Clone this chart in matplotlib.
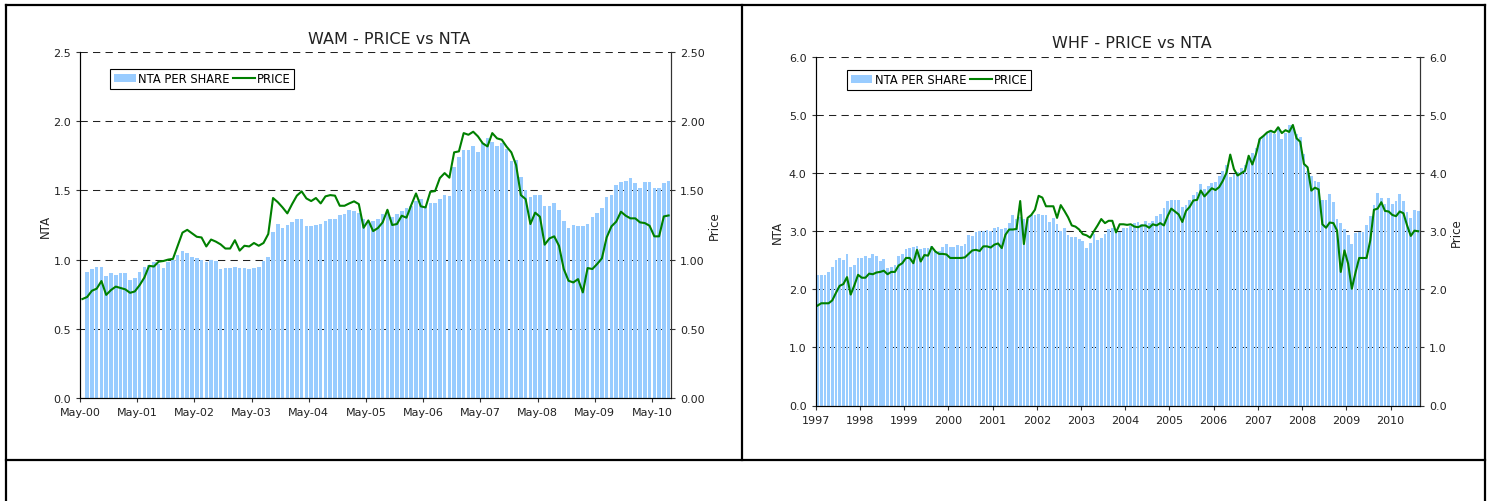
import numpy as np
import matplotlib
matplotlib.use('Agg')
import matplotlib.pyplot as plt
from matplotlib.lines import Line2D
from matplotlib.ticker import FormatStrFormatter

# WAM: price from May-00, NTA from Jun-00, both monthly to Aug-10
wam_nta = [0.91, 0.93, 0.95, 0.95, 0.88, 0.90, 0.89, 0.90, 0.90, 0.85, 0.87, 0.91, 0.95, 0.96, 0.98,
           0.97, 0.94, 0.98, 1.00, 1.03, 1.06, 1.05, 1.02, 1.01, 1.00, 0.98, 1.00, 0.99, 0.93, 0.94,
           0.94, 0.95, 0.94, 0.94, 0.93, 0.94, 0.95, 0.99, 1.02, 1.20,
           1.26, 1.23, 1.25, 1.27, 1.29, 1.29, 1.24, 1.24, 1.25, 1.26, 1.28, 1.29, 1.29, 1.32, 1.33,
           1.36, 1.35, 1.34, 1.29, 1.27, 1.28, 1.29, 1.33, 1.36, 1.31, 1.33, 1.35, 1.37, 1.39, 1.42,
           1.44, 1.38, 1.41, 1.41, 1.44, 1.47, 1.46, 1.67, 1.74, 1.79, 1.79, 1.82,
           1.78, 1.84, 1.88, 1.85, 1.82, 1.84, 1.80, 1.71, 1.72, 1.60, 1.50, 1.45, 1.47, 1.47, 1.39,
           1.39, 1.41, 1.36, 1.28, 1.23, 1.25, 1.24, 1.24, 1.26, 1.31, 1.34, 1.37, 1.45, 1.47, 1.54,
           1.56, 1.57, 1.59, 1.55, 1.52, 1.56, 1.56, 1.52, 1.52, 1.55, 1.57]
wam_price = [0.715, 0.73, 0.775, 0.79, 0.845, 0.745, 0.78, 0.805, 0.795, 0.785, 0.76, 0.77, 0.815,
             0.87, 0.955, 0.95, 0.985, 0.99, 1.00, 1.005, 1.10, 1.195, 1.215, 1.19, 1.165, 1.16,
             1.095, 1.145, 1.13, 1.11, 1.08, 1.08, 1.14, 1.065, 1.10, 1.095, 1.12, 1.10, 1.12, 1.185,
             1.445,
             1.415, 1.377, 1.334, 1.401, 1.462, 1.493, 1.442, 1.423, 1.445, 1.406, 1.457, 1.466,
             1.462, 1.389, 1.389, 1.406, 1.421, 1.401, 1.230, 1.283, 1.206, 1.228, 1.269, 1.360,
             1.250, 1.257, 1.317, 1.303, 1.394, 1.478, 1.385, 1.377, 1.490, 1.495, 1.589, 1.625,
             1.592, 1.775, 1.782, 1.914, 1.902, 1.924,
             1.890, 1.840, 1.818, 1.914, 1.876, 1.866, 1.816, 1.775, 1.683, 1.466, 1.437, 1.257,
             1.339, 1.310, 1.108, 1.153, 1.168, 1.100, 0.932, 0.847, 0.835, 0.859, 0.763, 0.939,
             0.932, 0.968, 1.009, 1.160, 1.240, 1.274, 1.346, 1.317, 1.298, 1.298, 1.269, 1.264,
             1.245, 1.168, 1.168, 1.312, 1.319]
wam_labels = ['May-00', 'May-01', 'May-02', 'May-03', 'May-04', 'May-05', 'May-06',
              'May-07', 'May-08', 'May-09', 'May-10']

# WHF: monthly Jan-97 to Aug-10
whf_nta = [2.24, 2.25, 2.25, 2.30, 2.38, 2.50, 2.54, 2.50, 2.61, 2.38, 2.42, 2.54, 2.54, 2.57, 2.54,
           2.61, 2.57, 2.49, 2.52, 2.37, 2.38, 2.42, 2.57, 2.61, 2.69, 2.71, 2.73, 2.75, 2.69, 2.71,
           2.71, 2.75, 2.66, 2.66, 2.73, 2.78, 2.73, 2.73, 2.76, 2.75, 2.78, 2.94, 2.92, 2.99, 3.00,
           3.00, 3.02, 3.00, 3.06, 3.07, 3.04, 3.06, 3.14, 3.28, 3.21,
           3.24, 3.21, 3.21, 3.28, 3.28, 3.30, 3.28, 3.28, 3.16, 3.23, 3.12, 3.00, 3.06, 2.94, 2.90,
           2.90, 2.87, 2.83, 2.71, 2.80, 2.95, 2.85, 2.88, 2.95, 3.04, 3.06, 3.00, 2.99, 3.06, 3.06,
           3.09, 3.14, 3.16, 3.12, 3.18, 3.14, 3.18, 3.26, 3.30, 3.40, 3.52, 3.54, 3.54, 3.54, 3.42,
           3.45, 3.54, 3.62, 3.68, 3.81, 3.73, 3.78, 3.83, 3.85, 3.95,
           4.04, 4.14, 3.93, 3.99, 4.02, 4.09, 4.14, 4.24, 4.35, 4.43, 4.59, 4.64, 4.71, 4.73, 4.67,
           4.79, 4.59, 4.69, 4.83, 4.83, 4.67, 4.62, 4.33, 4.04, 3.95, 3.86, 3.85, 3.54, 3.54, 3.64,
           3.50, 3.21, 3.15, 3.04, 2.94, 2.78, 2.97, 2.99, 2.99, 3.11, 3.26, 3.45, 3.66, 3.57, 3.47,
           3.57, 3.47, 3.52, 3.64, 3.52, 3.33, 3.23, 3.37, 3.35]
whf_price = [1.72, 1.76, 1.76, 1.76, 1.81, 1.94, 2.06, 2.09, 2.21, 1.91, 2.07, 2.25, 2.20, 2.20, 2.27,
             2.26, 2.29, 2.30, 2.32, 2.26, 2.30, 2.30, 2.41, 2.45, 2.54, 2.54, 2.45, 2.68, 2.48, 2.59,
             2.58, 2.73, 2.65, 2.61, 2.61, 2.60, 2.54, 2.54, 2.54, 2.54, 2.55, 2.61, 2.67, 2.68, 2.66,
             2.74, 2.74, 2.72, 2.77, 2.79, 2.71, 2.94, 3.03, 3.03, 3.04,
             3.52, 2.78, 3.23, 3.28, 3.37, 3.61, 3.58, 3.43, 3.43, 3.43, 3.23, 3.45, 3.35, 3.24, 3.10,
             3.08, 3.03, 2.95, 2.93, 2.89, 3.00, 3.10, 3.21, 3.14, 3.18, 3.18, 2.98, 3.12, 3.12, 3.11,
             3.12, 3.08, 3.07, 3.10, 3.10, 3.06, 3.12, 3.10, 3.14, 3.10, 3.26, 3.39, 3.34, 3.29, 3.16,
             3.35, 3.42, 3.53, 3.54, 3.70, 3.60, 3.67, 3.74, 3.71, 3.76,
             3.87, 4.01, 4.32, 4.07, 3.96, 4.00, 4.04, 4.30, 4.15, 4.33, 4.59, 4.64, 4.70, 4.73, 4.70,
             4.79, 4.69, 4.74, 4.71, 4.83, 4.60, 4.54, 4.16, 4.10, 3.70, 3.75, 3.72, 3.12, 3.06, 3.15,
             3.14, 3.01, 2.30, 2.67, 2.44, 2.01, 2.29, 2.54, 2.54, 2.54, 2.84, 3.37, 3.39, 3.50, 3.35,
             3.34, 3.28, 3.26, 3.34, 3.31, 3.10, 2.92, 3.01, 3.00]
whf_labels = ['1997', '1998', '1999', '2000', '2001', '2002', '2003', '2004', '2005', '2006',
              '2007', '2008', '2009', '2010']

BAR = '#99CCFF'
GREEN = '#008000'
TXT = '#222222'
W, H = 1490, 502

fig = plt.figure(figsize=(W / 100, H / 100), dpi=100)


def px_rect(x0, y0, x1, y1):
    return [x0 / W, 1 - y1 / H, (x1 - x0) / W, (y1 - y0) / H]


def panel(rect, title, tpos, nta, price, nta_start, n_months, labels, ytop, step,
          lfmt, rfmt, lab_x, leg_xy):
    ax = fig.add_axes(rect)
    x_nta = np.arange(len(nta)) + nta_start + 0.5
    x_price = np.arange(len(price)) + 0.5
    bars = ax.bar(x_nta, nta, width=0.75, color=BAR, linewidth=0, zorder=2,
                  label='NTA PER SHARE')
    ax.set_xlim(0, n_months)
    ax.set_ylim(0, ytop)
    ticks = np.arange(0, ytop + step / 2, step)
    ax.set_yticks(ticks)
    ax.yaxis.set_major_formatter(FormatStrFormatter(lfmt))
    ax.set_xticks(np.arange(0, n_months, 12))
    ax.set_xticklabels(labels)
    ax.set_axisbelow(True)
    ax.yaxis.grid(True, linestyle=(0, (7, 5)), color='#222222', linewidth=0.75)
    ax.spines['top'].set_visible(False)
    for s in ('left', 'bottom', 'right'):
        ax.spines[s].set_color('#333333')
    ax.tick_params(direction='out', length=3, width=0.8, labelsize=8, colors=TXT,
                   color='#333333')
    ax.set_ylabel('NTA', fontsize=8.5, color=TXT)
    ax.yaxis.set_label_coords(lab_x[0], 0.5)

    ax2 = ax.twinx()
    line, = ax2.plot(x_price, price, color=GREEN, lw=1.5, label='PRICE')
    ax2.set_ylim(0, ytop)
    ax2.set_yticks(ticks)
    ax2.yaxis.set_major_formatter(FormatStrFormatter(rfmt))
    ax2.spines['top'].set_visible(False)
    ax2.spines['right'].set_color('#333333')
    ax2.tick_params(direction='out', length=3, width=0.8, labelsize=8, colors=TXT,
                    color='#333333')
    ax2.set_ylabel('Price', fontsize=8.5, color=TXT)
    ax2.yaxis.set_label_coords(lab_x[1], 0.5)

    leg = ax2.legend([bars, line], ['NTA PER SHARE', 'PRICE'], loc='upper left',
                     bbox_to_anchor=leg_xy, ncol=2, fontsize=8.3, frameon=True,
                     fancybox=False, edgecolor='black', framealpha=1,
                     handlelength=1.9, handletextpad=0.2, columnspacing=0.3,
                     borderpad=0.3, borderaxespad=0)
    leg.get_frame().set_linewidth(0.8)

    fig.text(tpos[0] / W, 1 - tpos[1] / H, title, ha='center', va='center',
             fontsize=11.5, color=TXT)


panel(px_rect(80, 53, 671, 399), 'WAM - PRICE vs NTA', (389, 39), wam_nta, wam_price, 1, 124,
      wam_labels, 2.5, 0.5, '%.1f', '%.2f', (-0.048, 1.062), (0.051, 0.951))
panel(px_rect(815.7, 58, 1420, 406.5), 'WHF - PRICE vs NTA', (1132, 43), whf_nta, whf_price, 0,
      164, whf_labels, 6.0, 1.0, '%.1f', '%.1f', (-0.052, 1.05), (0.052, 0.963))

# table cell borders around the two charts
border = [((6.5, 5.5), (1484.5, 5.5)), ((6.5, 461), (1484.5, 461)),
          ((6.5, 5.5), (6.5, 502)), ((1484.5, 5.5), (1484.5, 502)),
          ((742, 5.5), (742, 461))]
for (xa, ya), (xb, yb) in border:
    fig.add_artist(Line2D([xa / W, xb / W], [1 - ya / H, 1 - yb / H],
                          transform=fig.transFigure, color='black', lw=1.6))

fig.savefig('out.png', dpi=100)
